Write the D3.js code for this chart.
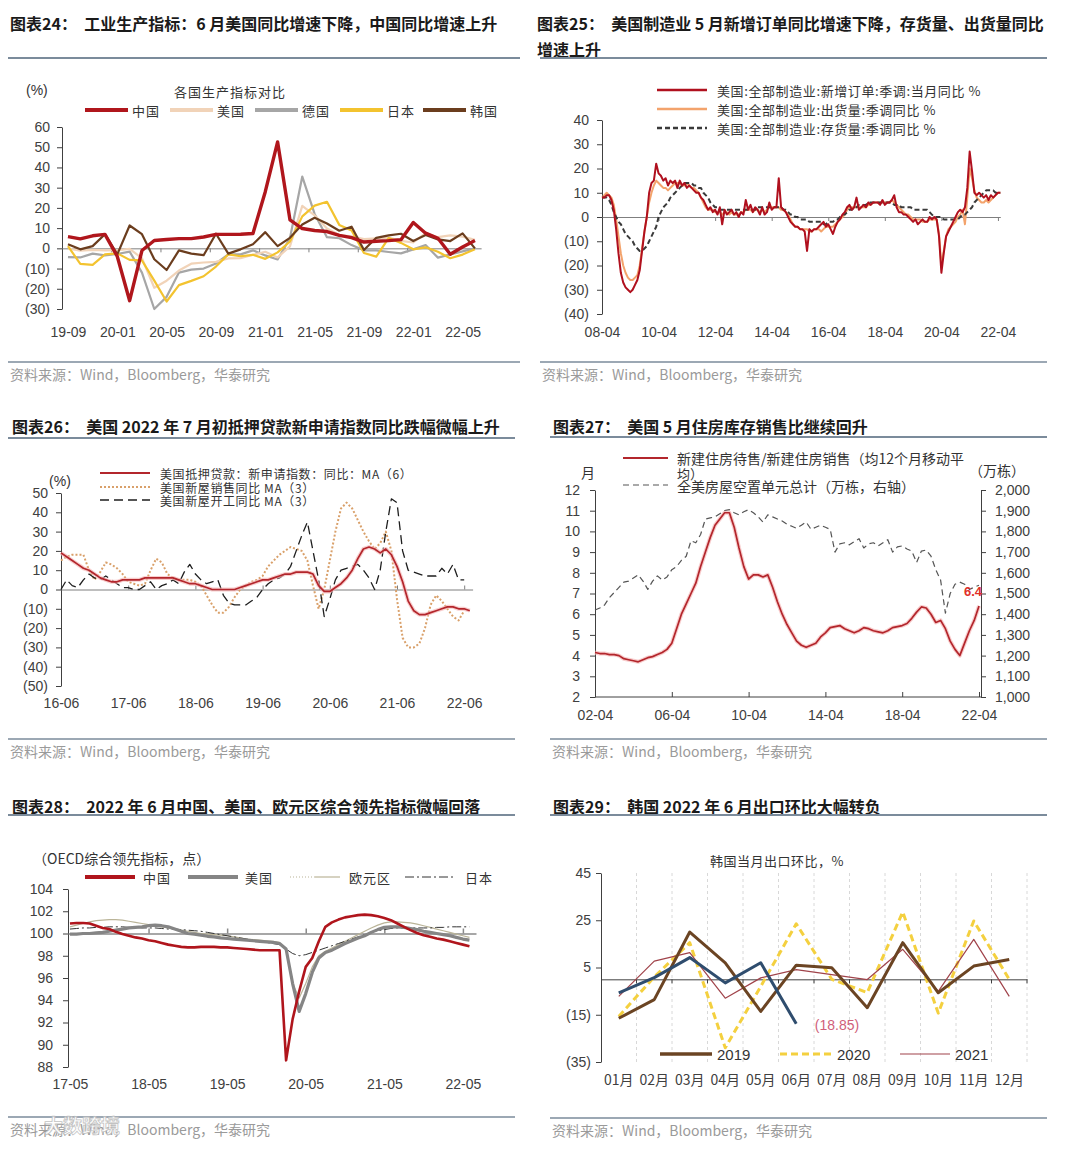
<!DOCTYPE html>
<html>
<head>
<meta charset="utf-8">
<script src="https://cdn.jsdelivr.net/npm/d3@7"></script>
<style>
  body { margin: 0; background: #fff; }
</style>
</head>
<body>
<script>
// ---------- 图表24: industrial production yoy, 19-09 .. 22-06 ----------
const p1TickLabels = ["19-09", "20-01", "20-05", "20-09", "21-01", "21-05", "21-09", "22-01", "22-05"];
const ipChina = [5.8, 4.7, 6.2, 6.9, -4.0, -25.9, -1.1, 3.9, 4.4, 4.8, 4.8, 5.6, 6.9, 6.9, 7.0, 7.3, 28.0, 52.6, 14.1, 9.8, 8.8, 8.3, 6.4, 5.3, 3.1, 3.5, 3.8, 4.3, 12.8, 7.5, 5.0, -2.9, 0.7, 3.9];
const ipUS = [-0.1, -1.1, -0.8, -1.0, -0.9, -0.3, -4.9, -19.5, -16.0, -11.0, -7.6, -7.0, -6.7, -5.0, -4.9, -3.2, -1.7, -4.5, 1.0, 21.0, 16.3, 9.8, 6.6, 5.9, 4.6, 4.9, 5.3, 3.7, 2.9, 7.5, 5.5, 6.4, 5.8, 4.2];
const ipGermany = [-4.3, -4.5, -2.6, -3.5, -2.8, -1.6, -12.0, -30.0, -24.0, -12.0, -10.5, -10.0, -7.5, -3.0, -3.0, -1.0, -3.5, -5.5, 5.0, 35.5, 17.0, 5.5, 5.0, 1.6, -1.0, -1.0, -1.8, -2.5, -0.5, 1.6, -4.6, -3.0, -1.5, 0.0];
const ipJapan = [1.1, -7.7, -8.2, -3.0, -2.5, -5.7, -6.0, -16.0, -26.3, -18.2, -16.1, -13.8, -9.0, -3.0, -3.9, -3.2, -5.2, -2.0, 3.4, 15.8, 21.1, 23.0, 11.6, 8.8, -2.3, -4.1, 5.1, 2.7, -0.5, 0.5, -1.7, -4.9, -3.1, -0.5];
const ipKorea = [2.0, -0.5, 1.1, 7.0, -3.0, 11.3, 7.0, -5.4, -10.7, -1.0, -2.6, -3.4, 7.2, -2.6, -0.5, 2.0, 8.0, 1.1, 5.2, 11.8, 15.1, 12.3, 8.7, 10.7, -0.8, 5.2, 6.4, 7.2, 3.6, 6.6, 4.4, 3.6, 7.4, 0.0];

// ---------- 图表25: US manufacturing yoy, monthly 08-04 .. 22-05 ----------
const p2TickLabels = ["08-04", "10-04", "12-04", "14-04", "16-04", "18-04", "20-04", "22-04"];
const ordersYoY = [
  8, 8, 9, 9, 7, 3, -5, -15, -23,
  -27, -29, -30, -31, -30, -28, -26, -22, -14, -6, 0, 10,
  14, 15, 22, 18, 17, 15, 16, 13, 15, 14, 15, 12,
  15, 13, 14, 12, 13, 12, 11, 10, 10, 8, 7, 5,
  3, 4, 2, 3, 1, 4, -3, 3, 1, 2, 3, 1,
  2, 0, 2, 1, 7, 3, 5, 2, 4, 3, 1, 4,
  1, 2, 6, 3, 4, 4, 16, 4, 3, 2, 0, -2,
  -3, -4, -4, -5, -5, -6, -14, -5, -6, -5, -5, -4,
  -3, -2, -4, -3, -5, -7, -4, -2, -1, 1, 2, 4,
  5, 3, 4, 8, 3, 4, 5, 4, 6, 5, 6, 6,
  6, 5, 7, 5, 6, 6, 7, 9, 4, 2, 2, 1,
  1, 0, -1, -2, -1, -3, -2, -1, -2, -2, 0, -1,
  0, -1, -8, -23, -15, -8, -6, -4, -2, 0, 2, 3,
  2, 4, 12, 27, 19, 10, 9, 10, 9, 8, 9, 7,
  9, 8, 9, 10, 10];
const shipYoY = [
  8, 9, 10, 9, 8, 5, -1, -8, -15,
  -20, -23, -25, -26, -26, -25, -24, -20, -13, -6, 0, 6,
  10, 13, 15, 14, 13, 12, 12, 11, 12, 13, 14, 14,
  14, 13, 13, 14, 13, 12, 12, 11, 10, 8, 6, 4,
  3, 3, 3, 2, 2, 2, 1, 2, 2, 1, 2, 1,
  1, 1, 2, 2, 3, 3, 3, 2, 3, 3, 2, 3,
  2, 3, 4, 4, 4, 4, 4, 3, 3, 2, 1, -1,
  -3, -4, -4, -5, -5, -5, -5, -6, -6, -5, -5, -5,
  -6, -5, -4, -4, -4, -4, -3, -2, -1, 0, 1, 3,
  4, 4, 4, 4, 4, 4, 4, 4, 5, 5, 6, 6,
  6, 6, 6, 6, 6, 6, 7, 6, 5, 4, 3, 2,
  1, 1, 0, -1, -1, -1, -1, -2, -2, -2, -1, -1,
  -1, -1, -7, -20, -14, -8, -5, -4, -3, -2, 0, 1,
  3, -3, 8, 20, 16, 11, 8, 7, 6, 6, 7, 6,
  7, 8, 9, 10, 10];
const invYoY = [
  8, 8, 8, 7, 5, 2, 0, -2, -3,
  -5, -7, -8, -9, -10, -12, -13, -14, -14, -13, -12, -10,
  -8, -6, -4, 0, 2, 4, 5, 6, 8, 9, 10, 11,
  12, 13, 14, 14, 14, 14, 13, 13, 12, 12, 10, 9,
  8, 6, 5, 4, 4, 3, 3, 3, 3, 3, 3, 3,
  3, 3, 3, 3, 3, 3, 3, 3, 3, 4, 4, 4,
  4, 4, 4, 4, 4, 4, 4, 4, 3, 3, 2, 1,
  1, 0, 0, -1, -1, -1, -1, -2, -2, -2, -2, -2,
  -2, -3, -3, -2, -2, -2, -1, -1, 0, 1, 1, 2,
  3, 3, 4, 4, 5, 5, 5, 5, 6, 6, 6, 6,
  6, 6, 6, 6, 6, 6, 6, 5, 5, 5, 4, 4,
  4, 4, 4, 3, 3, 3, 3, 3, 3, 3, 2, 1,
  0, 0, 0, 0, -1, -1, -1, -1, -1, -1, -1, 0,
  1, 1, 2, 3, 4, 6, 7, 8, 9, 10, 11, 11,
  11, 11, 10, 10, 10];

// ---------- 图表26: mortgage applications / new home sales / starts, 16-06 .. 22-07 ----------
const p3TickLabels = ["16-06", "17-06", "18-06", "19-06", "20-06", "21-06", "22-06"];
const mortgageYoY = [
  19, 17, 15, 13, 11, 10, 8, 6, 5, 4,
  4, 5, 5, 5, 5, 6, 6, 6, 6, 6,
  6, 5, 4, 3, 3, 2, 1, 0, 0, 0,
  0, 0, 1, 2, 3, 4, 5, 5, 6, 7,
  8, 8, 9, 9, 9, 8, 2, -1, -1, 1,
  3, 6, 10, 16, 21, 22, 21, 19, 21, 18,
  12, 4, -6, -11, -13, -13, -12, -11, -10, -9,
  -9, -10, -10, -11];
const homeSalesYoY = [
  15, 17, 18, 18, 18, 10, 5, 9, 14, 13,
  11, 8, 4, 3, 2, 3, 10, 16, 14, 8,
  6, 5, 5, 5, 4, 2, -3, -8, -12, -12,
  -9, -4, 0, 2, 4, 5, 7, 12, 15, 18,
  20, 22, 21, 20, 15, 2, -10, 0, 15, 30,
  42, 45, 42, 36, 30, 25, 21, 24, 30, 20,
  -5, -25, -30, -30, -28, -20, -8, -3, -6, -10,
  -14, -16, -11];
const housingStartsYoY = [
  0, 5, 2, 1, 5, 8, 6, 5, 7, 5,
  3, 1, 1, 0, 0, 2, 4, 0, 2, 3,
  5, 3, 9, 13, 8, 5, 3, 4, 5, -3,
  -7, -8, -8, -8, -6, -4, 0, 3, 5, 6,
  8, 12, 20, 28, 35, 20, 5, -14, -5, 5,
  10, 11, 12, 13, 10, 6, 0, 10, 30, 47,
  45, 20, 10, 9, 8, 7, 7, 7, 11, 8,
  13, 5, 5];

// ---------- 图表27: months' supply (left) and vacant units (right), quarterly 02-04 .. 22-04 ----------
const p4TickLabels = ["02-04", "06-04", "10-04", "14-04", "18-04", "22-04"];
const monthsSupply = [
  4.15, 4.1, 4.1, 4.05, 4.05, 4.0, 3.85, 3.8, 3.75, 3.7,
  3.8, 3.9, 3.95, 4.05, 4.15, 4.3, 4.6, 5.3, 6.0, 6.5,
  7.0, 7.5, 8.3, 9.0, 9.7, 10.3, 10.6, 10.9, 10.9, 10.2,
  9.2, 8.3, 7.7, 7.9, 7.9, 7.8, 7.9, 7.3, 6.6, 6.0,
  5.5, 5.1, 4.7, 4.5, 4.4, 4.5, 4.6, 4.9, 5.1, 5.35,
  5.4, 5.45, 5.3, 5.2, 5.1, 5.2, 5.35, 5.3, 5.2, 5.15,
  5.1, 5.2, 5.35, 5.4, 5.45, 5.55, 5.8, 6.1, 6.35, 6.3,
  6.0, 5.6, 5.7, 5.3, 4.7, 4.3, 4.0, 4.6, 5.2, 5.7,
  6.4];
const vacantUnits = [
  1420, 1430, 1445, 1480, 1505, 1530, 1555, 1560, 1575, 1590,
  1560, 1520, 1560, 1585, 1565, 1580, 1615, 1630, 1660, 1680,
  1755, 1745, 1785, 1860, 1865, 1870, 1885, 1900, 1905, 1890,
  1880, 1895, 1905, 1890, 1870, 1845, 1880, 1870, 1860, 1850,
  1835, 1825, 1815, 1830, 1845, 1810, 1820, 1830, 1820, 1810,
  1700, 1740, 1745, 1735, 1750, 1765, 1720, 1740, 1745, 1730,
  1745, 1760, 1700, 1725, 1730, 1715, 1705, 1650, 1705, 1710,
  1680, 1615, 1565, 1405, 1500, 1545, 1555, 1545, 1520, 1530,
  1540];

// ---------- 图表28: OECD CLI, monthly 17-05 .. 22-06 ----------
const p5TickLabels = ["17-05", "18-05", "19-05", "20-05", "21-05", "22-05"];
const cliChina = [
  100.9, 100.95, 100.95, 100.9, 100.7, 100.5, 100.4, 100.15, 99.95, 99.8,
  99.65, 99.55, 99.4, 99.3, 99.15, 99.0, 98.9, 98.8, 98.75, 98.75,
  98.8, 98.8, 98.8, 98.75, 98.75, 98.7, 98.65, 98.6, 98.55, 98.5,
  98.5, 98.5, 98.5, 88.6, 92.3, 94.8, 97.0, 97.8, 99.3, 100.6,
  101.0, 101.25, 101.45, 101.55, 101.65, 101.7, 101.65, 101.55, 101.4, 101.2,
  100.9, 100.6, 100.3, 100.05, 99.85, 99.7, 99.55, 99.45, 99.3, 99.15,
  99.0, 98.85];
const cliUS = [
  99.95, 99.95, 100.0, 100.0, 100.05, 100.1, 100.2, 100.3, 100.4, 100.5,
  100.55, 100.6, 100.7, 100.75, 100.7, 100.6, 100.4, 100.2, 100.0, 99.95,
  99.85, 99.75, 99.7, 99.6, 99.55, 99.5, 99.45, 99.4, 99.35, 99.3,
  99.25, 99.2, 99.1, 98.6, 95.5, 93.0, 94.6, 96.5, 97.8, 98.3,
  98.5, 98.8, 99.1, 99.35, 99.6, 99.8, 100.1, 100.35, 100.55, 100.6,
  100.6, 100.55, 100.45, 100.35, 100.2, 100.1, 100.0, 99.9, 99.8, 99.65,
  99.5, 99.4];
const cliEuro = [
  100.6, 100.75, 100.9, 101.05, 101.15, 101.2, 101.25, 101.25, 101.2, 101.1,
  101.0, 100.9, 100.8, 100.7, 100.6, 100.5, 100.4, 100.3, 100.2, 100.1,
  100.0, 99.95, 99.9, 99.85, 99.8, 99.7, 99.6, 99.5, 99.45, 99.4,
  99.35, 99.3, 99.2, 98.5, 95.5, 94.2, 95.5, 97.0, 98.0, 98.4,
  98.7, 99.0, 99.3, 99.6, 99.9, 100.2, 100.5, 100.75, 100.95, 101.05,
  101.05, 101.0, 100.95, 100.85, 100.7, 100.55, 100.4, 100.25, 100.1, 99.95,
  99.8, 99.65];
const cliJapan = [
  100.4, 100.45, 100.5, 100.5, 100.55, 100.55, 100.6, 100.6, 100.6, 100.55,
  100.55, 100.5, 100.5, 100.5, 100.45, 100.4, 100.4, 100.35, 100.3, 100.25,
  100.2, 100.1, 100.0, 99.9, 99.8, 99.7, 99.6, 99.5, 99.4, 99.3,
  99.2, 99.1, 99.0, 98.6, 98.2, 98.0, 98.1, 98.3, 98.5, 98.7,
  98.9, 99.1, 99.3, 99.5, 99.7, 99.9, 100.1, 100.25, 100.35, 100.45,
  100.5, 100.5, 100.5, 100.5, 100.5, 100.5, 100.55, 100.55, 100.6, 100.6,
  100.6, 100.6];

// ---------- 图表29: Korea exports mom by calendar month ----------
const krMonths = ["01月", "02月", "03月", "04月", "05月", "06月", "07月", "08月", "09月", "10月", "11月", "12月"];
const kr2019 = [-16.5, -8.6, 20.0, 7.0, -13.6, 6.0, 4.9, -12.0, 15.5, -5.7, 5.6, 8.4];
const kr2020 = [-15.7, 1.0, 15.5, -29.0, -3.0, 23.5, 0.0, -5.6, 28.5, -14.3, 24.7, 0.0];
const kr2021 = [-7.2, 7.7, 11.3, -8.0, 0.6, 4.1, 2.0, -0.1, 12.7, -5.1, 16.9, -7.2];
const kr2022 = [-5.7, 0.7, 9.2, -1.5, 7.0, -18.85];

// ---------- helpers ----------
const CN = '"Noto Sans CJK SC", "Noto Sans", sans-serif';
const AR = '"Liberation Sans", Arial, sans-serif';
const neg = v => v < 0 ? "(" + (-v) + ")" : String(v);

var svg = d3.select("body").append("svg")
  .attr("width", 1080)
  .attr("height", 1149);
svg.append("rect").attr("width", 1080).attr("height", 1149).attr("fill", "#fff");

function txt(x, y, s, o = {}) {
  return svg.append("text")
    .attr("x", x).attr("y", y)
    .attr("dominant-baseline", "central")
    .attr("font-family", o.font || CN)
    .attr("font-size", o.size || 13)
    .attr("font-weight", o.weight || 400)
    .attr("fill", o.color || "#333")
    .attr("text-anchor", o.anchor || "start")
    .attr("letter-spacing", o.ls || 0)
    .style("white-space", "pre")
    .text(s);
}

function hline(x1, x2, y, color, w) {
  return svg.append("line").attr("x1", x1).attr("x2", x2).attr("y1", y).attr("y2", y)
    .attr("stroke", color).attr("stroke-width", w);
}

function frame(x0, lx1, lx2, titles, ty, sepY, botY) {
  titles.forEach((t, i) => txt(x0, ty + i * 26, t, { size: 16, weight: 700, color: "#1a1a1a" }));
  hline(lx1, lx2, sepY, "#7b8b9b", 2);
  hline(lx1, lx2, botY, "#7b8b9b", 1.6);
  txt(lx1 + 2, botY + 12, "资料来源：Wind，Bloomberg，华泰研究", { size: 14, color: "#9a9a9a" });
}

function styleAxis(g, font, size) {
  g.attr("font-family", font || AR).attr("font-size", size || 14);
  g.select(".domain").attr("stroke", "#404040");
  g.selectAll(".tick line").attr("stroke", "#404040");
  g.selectAll(".tick text").attr("fill", "#404040");
  return g;
}

function labelAxis(scale, values, fmt, y, font) {
  var a = svg.append("g").attr("transform", "translate(0," + y + ")")
    .call(d3.axisBottom(scale).tickValues(values).tickFormat(fmt).tickSize(0).tickPadding(0));
  a.select(".domain").remove();
  a.selectAll("text").attr("dy", "0.35em");
  return styleAxis(a, font);
}

function plotLine(data, x, y, color, width, dash, opacity) {
  return svg.append("path")
    .datum(data)
    .attr("fill", "none")
    .attr("stroke", color)
    .attr("stroke-width", width)
    .attr("stroke-dasharray", dash || null)
    .attr("stroke-linejoin", "round")
    .attr("opacity", opacity || 1)
    .attr("d", d3.line().x((d, i) => x(i)).y(d => y(d)));
}

function key(x1, x2, y, color, width, dash) {
  hline(x1, x2, y, color, width).attr("stroke-dasharray", dash || null);
}

// ================= 图表24 =================
frame(10, 8, 520, ["图表24：  工业生产指标：6 月美国同比增速下降，中国同比增速上升"], 23, 58, 362);
{
  const x = d3.scaleLinear().domain([-0.5, 33.5]).range([61.8, 481.1]);
  const y = d3.scaleLinear().domain([-30, 60]).range([309, 127]);

  styleAxis(svg.append("g").attr("transform", "translate(62,0)")
    .call(d3.axisLeft(y).tickValues(d3.range(-30, 61, 10)).tickFormat(neg).tickSize(5).tickSizeOuter(0).tickPadding(7)));
  styleAxis(svg.append("g").attr("transform", "translate(0," + y(0) + ")")
    .call(d3.axisBottom(x).tickValues(d3.range(3.5, 33, 4)).tickFormat("").tickSize(4).tickSizeOuter(0)))
    .selectAll("path, line").attr("stroke", "#7f7f7f");
  labelAxis(x, d3.range(0, 33, 4), d => p1TickLabels[d / 4], 332);

  plotLine(ipGermany, x, y, "#a6a6a6", 2.2);
  plotLine(ipUS, x, y, "#f1d3b8", 2.2);
  plotLine(ipJapan, x, y, "#f3c32f", 2.2);
  plotLine(ipKorea, x, y, "#6b3d1e", 2.2);
  plotLine(ipChina, x, y, "#b0161c", 3.4);

  txt(26, 90, "(%)", { font: AR, size: 14 });
  txt(230, 91, "各国生产指标对比", { anchor: "middle", ls: 1 });
  const items = [["中国", 85, "#b0161c"], ["美国", 170, "#f1d3b8"], ["德国", 255, "#a6a6a6"], ["日本", 340, "#f3c32f"], ["韩国", 423, "#6b3d1e"]];
  items.forEach(d => {
    key(d[1], d[1] + 43, 110, d[2], 4);
    txt(d[1] + 47, 110, d[0], { ls: 1 });
  });
}

// ================= 图表25 =================
frame(537, 540, 1047, ["图表25：  美国制造业 5 月新增订单同比增速下降，存货量、出货量同比", "增速上升"], 23, 58, 362);
{
  const x = d3.scaleLinear().domain([0, 169]).range([602, 1000.3]);
  const y = d3.scaleLinear().domain([-40, 40]).range([314, 120]);

  styleAxis(svg.append("g").attr("transform", "translate(602,0)")
    .call(d3.axisLeft(y).tickValues(d3.range(-40, 41, 10)).tickFormat(neg).tickSize(5).tickSizeOuter(0).tickPadding(8)));
  styleAxis(svg.append("g").attr("transform", "translate(0," + y(0) + ")")
    .call(d3.axisBottom(x).tickValues(d3.range(24, 169, 24)).tickFormat("").tickSize(4).tickSizeOuter(0)))
    .selectAll("path, line").attr("stroke", "#7f7f7f");
  labelAxis(x, d3.range(0, 169, 24), d => p2TickLabels[d / 24], 332);

  plotLine(shipYoY, x, y, "#f3a36c", 2);
  plotLine(invYoY, x, y, "#3a3a3a", 2, "5,3");
  plotLine(ordersYoY, x, y, "#b0101e", 2);

  const items = [["美国:全部制造业:新增订单:季调:当月同比 %", "#b0101e", null],
                 ["美国:全部制造业:出货量:季调同比 %", "#f3a36c", null],
                 ["美国:全部制造业:存货量:季调同比 %", "#3a3a3a", "5,3"]];
  items.forEach((d, i) => {
    key(657, 707, 90 + i * 19, d[1], 2.5, d[2]);
    txt(717, 90 + i * 19, d[0], { ls: 0.6 });
  });
}

// ================= 图表26 =================
frame(12, 8, 515, ["图表26：  美国 2022 年 7 月初抵押贷款新申请指数同比跌幅微幅上升"], 426, 438, 739);
{
  const x = d3.scaleLinear().domain([0, 73.5]).range([61, 472.6]);
  const y = d3.scaleLinear().domain([-50, 50]).range([686, 493]);

  styleAxis(svg.append("g").attr("transform", "translate(61,0)")
    .call(d3.axisLeft(y).tickValues(d3.range(-50, 51, 10)).tickFormat(neg).tickSize(5).tickSizeOuter(0).tickPadding(8)));
  styleAxis(svg.append("g").attr("transform", "translate(0," + y(0) + ")")
    .call(d3.axisBottom(x).tickValues(d3.range(12, 73, 12)).tickFormat("").tickSize(-4).tickSizeOuter(0)))
    .selectAll("path, line").attr("stroke", "#7f7f7f");
  labelAxis(x, d3.range(0, 73, 12), d => p3TickLabels[d / 12], 703);

  plotLine(homeSalesYoY, x, y, "#d9a06a", 2, "2,2");
  plotLine(housingStartsYoY, x, y, "#1e1e1e", 1.3, "9,5");
  plotLine(mortgageYoY, x, y, "#f5b8b8", 4, null, 0.7);
  plotLine(mortgageYoY, x, y, "#b3262c", 1.7);

  txt(60, 481, "(%)", { font: AR, size: 14, anchor: "middle" });
  key(100, 150, 473, "#b3262c", 2);
  key(100, 150, 487, "#d9a06a", 2, "2,2");
  key(100, 150, 500, "#1e1e1e", 1.3, "9,5");
  txt(160, 473, "美国抵押贷款：新申请指数：同比：MA（6）", { size: 12, ls: 0.6 });
  txt(160, 487, "美国新屋销售同比 MA（3）", { size: 12, ls: 0.6 });
  txt(160, 500, "美国新屋开工同比 MA（3）", { size: 12, ls: 0.6 });
}

// ================= 图表27 =================
frame(553, 550, 1047, ["图表27：  美国 5 月住房库存销售比继续回升"], 426, 437, 739);
{
  const x = d3.scaleLinear().domain([0, 240]).range([595, 979]);
  const yL = d3.scaleLinear().domain([2, 12]).range([697, 490]);
  const yR = d3.scaleLinear().domain([1000, 2000]).range([697, 490]);
  const xq = i => x(i * 3);

  styleAxis(svg.append("g").attr("transform", "translate(595,0)")
    .call(d3.axisLeft(yL).tickValues(d3.range(2, 13, 1)).tickSize(5).tickSizeOuter(0).tickPadding(10)));
  styleAxis(svg.append("g").attr("transform", "translate(981,0)")
    .call(d3.axisRight(yR).tickValues(d3.range(1000, 2001, 100)).tickFormat(d3.format(",")).tickSize(5).tickSizeOuter(0).tickPadding(9)));
  styleAxis(svg.append("g").attr("transform", "translate(0,697)")
    .call(d3.axisBottom(x).tickValues(d3.range(48, 241, 48)).tickFormat("").tickSize(-5).tickSizeOuter(0)))
    .select(".domain").attr("d", "M595,0H981");
  labelAxis(x, d3.range(0, 241, 48), d => p4TickLabels[d / 48], 715);

  plotLine(vacantUnits, xq, yR, "#555", 1.2, "6,4");
  plotLine(monthsSupply, xq, yL, "#f5b8b8", 4, null, 0.7);
  plotLine(monthsSupply, xq, yL, "#b3262c", 1.7);

  txt(973, 591, "6.4", { font: AR, size: 13, weight: 700, color: "#e0302a", anchor: "middle" });
  txt(588, 472, "月", { size: 14, anchor: "middle" });
  txt(997, 470, "（万栋）", { size: 14, anchor: "middle" });
  key(623, 668, 458, "#b3262c", 2);
  key(623, 668, 485, "#555", 1.2, "6,4");
  txt(677, 458, "新建住房待售/新建住房销售（均12个月移动平", { size: 14 });
  txt(677, 473, "均）", { size: 13 });
  txt(677, 486, "全美房屋空置单元总计（万栋，右轴）", { size: 14 });
}

// ================= 图表28 =================
frame(12, 8, 515, ["图表28：  2022 年 6 月中国、美国、欧元区综合领先指标微幅回落"], 806, 815, 1117);
{
  const x = d3.scaleLinear().domain([-0.3, 62]).range([68, 476]);
  const y = d3.scaleLinear().domain([88, 104]).range([1067, 889]);

  styleAxis(svg.append("g").attr("transform", "translate(68,0)")
    .call(d3.axisLeft(y).tickValues(d3.range(88, 105, 2)).tickSize(5).tickSizeOuter(0).tickPadding(10)));
  styleAxis(svg.append("g").attr("transform", "translate(0," + y(100) + ")")
    .call(d3.axisBottom(x).tickValues(d3.range(12, 61, 12)).tickFormat("").tickSize(-5).tickSizeOuter(0)))
    .selectAll("path, line").attr("stroke", "#8a8a8a").attr("stroke-width", 1.5);
  labelAxis(x, d3.range(0, 61, 12), d => p5TickLabels[d / 12], 1084);

  plotLine(cliEuro, x, y, "#bab498", 1.2);
  plotLine(cliJapan, x, y, "#333", 1, "9,3,2,3");
  plotLine(cliUS, x, y, "#858585", 3.2);
  plotLine(cliChina, x, y, "#b0151c", 2.6);

  txt(33, 858, "（OECD综合领先指标，点）", { size: 14 });
  key(85, 135, 877, "#b0151c", 4);
  key(188, 238, 877, "#858585", 4);
  key(290, 315, 877, "#bab498", 1.2, "1,2");
  key(315, 340, 877, "#bab498", 1.2);
  key(405, 455, 877, "#333", 1, "9,3,2,3");
  txt(143, 877, "中国", { ls: 1 });
  txt(245, 877, "美国", { ls: 1 });
  txt(349, 877, "欧元区", { ls: 1 });
  txt(465, 877, "日本", { ls: 1 });
}

// ================= 图表29 =================
frame(553, 550, 1047, ["图表29：  韩国 2022 年 6 月出口环比大幅转负"], 806, 815, 1118);
{
  const band = d3.scaleBand().domain(krMonths).range([601, 1027]);
  const xi = i => band(krMonths[i]) + band.bandwidth() / 2;
  const y = d3.scaleLinear().domain([-35, 45]).range([1062, 873]);

  krMonths.forEach(m => {
    const bx = band(m) + band.bandwidth();
    svg.append("line").attr("x1", bx).attr("x2", bx).attr("y1", 873).attr("y2", 1062)
      .attr("stroke", "#d8d8d8").attr("stroke-dasharray", "3,3");
  });
  styleAxis(svg.append("g").attr("transform", "translate(601,0)")
    .call(d3.axisLeft(y).tickValues([-35, -15, 5, 25, 45]).tickFormat(neg).tickSize(5).tickSizeOuter(0).tickPadding(5)));
  const xa = styleAxis(svg.append("g").attr("transform", "translate(0," + y(0) + ")")
    .call(d3.axisBottom(band).tickFormat("").tickSize(4).tickSizeOuter(0)));
  xa.selectAll(".tick").attr("transform", d => "translate(" + (band(d) + band.bandwidth()) + ",0)");
  labelAxis(band, krMonths, d => d, 1080, CN);

  plotLine(kr2020, xi, y, "#f4d03f", 3, "7,4");
  plotLine(kr2021, xi, y, "#a0434a", 1.2);
  plotLine(kr2019, xi, y, "#6b4423", 3);
  plotLine(kr2022, xi, y, "#2f4d6e", 3);

  txt(777, 860, "韩国当月出口环比，%", { anchor: "middle", ls: 0.5 });
  txt(837, 1025, "(18.85)", { font: AR, size: 14, color: "#d0607a", anchor: "middle" });
  key(660, 712, 1054, "#6b4423", 3.5);
  key(780, 832, 1054, "#f4d03f", 3, "7,4");
  key(900, 950, 1054, "#a0434a", 1.2);
  txt(717, 1054, "2019", { font: AR, size: 15 });
  txt(837, 1054, "2020", { font: AR, size: 15 });
  txt(955, 1054, "2021", { font: AR, size: 15 });
}

// watermark
svg.append("text")
  .attr("x", 44).attr("y", 1133)
  .attr("font-family", CN).attr("font-size", 19).attr("font-weight", 700)
  .attr("fill", "#fff").attr("stroke", "#bdbdbd").attr("stroke-width", 0.8)
  .attr("opacity", 0.9)
  .text("大数跨境");
</script>
</body>
</html>
